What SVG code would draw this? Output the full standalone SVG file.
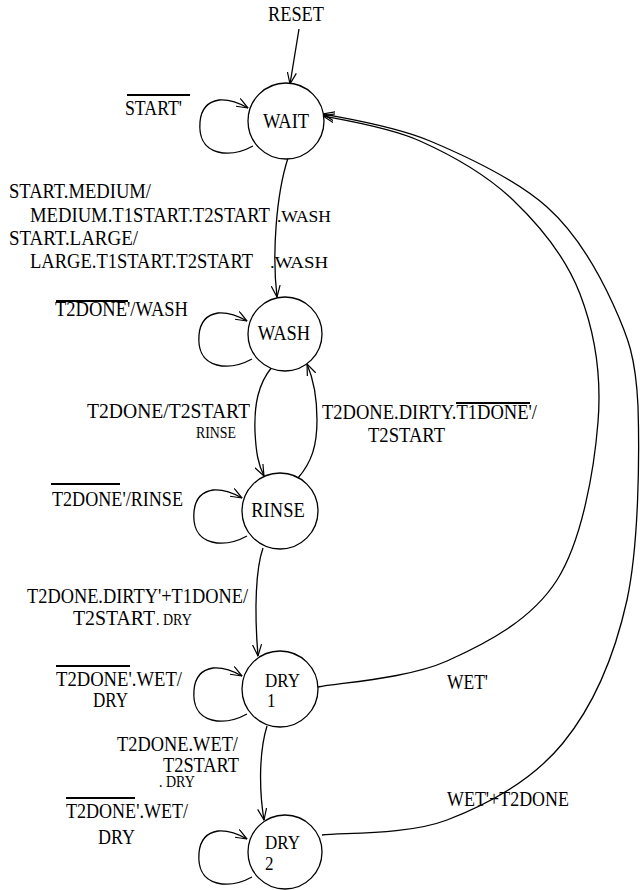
<svg xmlns="http://www.w3.org/2000/svg" width="640" height="890" viewBox="0 0 640 890" font-family="'Times New Roman', 'Liberation Serif', Times, 'DejaVu Serif', serif">
<style>
.bg{fill:#fff}
.st{fill:#fff;stroke:#000;stroke-width:1.3}
.e{fill:none;stroke:#000;stroke-width:1.3}
.ob{stroke:#000;stroke-width:1.8}
text{font-family:'Times New Roman', 'Liberation Serif', Times, 'DejaVu Serif', serif;fill:#000;transform-box:fill-box;transform-origin:0 85%;transform:scaleY(1.12)}
.t{font-size:18.3px}
.s{font-size:15.5px}
.xs{font-size:14px}
.n{font-size:18.5px;text-anchor:middle}
.d{font-size:17px}
</style>
<defs>
<marker id="ar" markerUnits="userSpaceOnUse" viewBox="0 0 12 10" refX="11.5" refY="5" markerWidth="12" markerHeight="10" orient="auto">
<path d="M0,0.5 L11.5,5 L0,9.5" fill="none" stroke="#000" stroke-width="1.2"/>
</marker>
<path id="loop" d="M -33,25 C -44,31 -56,34 -68,31 C -84,27 -87,13 -86,1 C -85,-11 -80,-19 -67,-21 C -55,-22 -45,-17 -38,-13"/>
</defs>
<rect class="bg" x="0" y="0" width="640" height="890"/>

<g id="connectors">
<path class="e" marker-end="url(#ar)" d="M 299,29 L 290,84"/>
<path class="e" marker-end="url(#ar)" d="M 288,158 C 276,195 272,255 277,297"/>
<path class="e" marker-end="url(#ar)" d="M 272,367 C 258,384 254,405 255,432 C 256,452 258,464 264,476"/>
<path class="e" marker-end="url(#ar)" d="M 298,478 C 312,462 317,445 317,420 C 317,395 313,378 307,364"/>
<path class="e" marker-end="url(#ar)" d="M 263,548 C 256,568 254,608 258,656"/>
<path class="e" marker-end="url(#ar)" d="M 267,726 C 259,752 259,790 264,820"/>
<path class="e" marker-end="url(#ar)" d="M 318,687 C 339.5,682.7 407.2,678.8 447,661 C 486.8,643.2 531.8,619.8 557,580 C 582.2,540.2 594.2,469.7 598,422 C 601.8,374.3 594.2,331 580,294 C 565.8,257 539.7,225.5 513,200 C 486.3,174.5 451.7,155.2 420,141 C 388.3,126.8 339.2,119.3 323,116"/>
<path class="e" marker-end="url(#ar)" d="M 322,835 C 342.8,832.5 406.8,835.3 447,820 C 487.2,804.7 533,779.7 563,743 C 593,706.3 614.5,656.2 627,600 C 639,543.8 639.5,455.3 638,406 C 635.7,356.7 628.2,337.2 613,304 C 597.8,270.8 577.5,234.2 547,207 C 516.5,179.8 467.3,156.7 430,141 C 392.7,125.3 340.8,117.7 323,114"/>
<use href="#loop" class="e" marker-end="url(#ar)" transform="translate(286,121)"/>
<use href="#loop" class="e" marker-end="url(#ar)" transform="translate(285,334)"/>
<use href="#loop" class="e" marker-end="url(#ar)" transform="translate(280,511)"/>
<use href="#loop" class="e" marker-end="url(#ar)" transform="translate(280,689)"/>
<use href="#loop" class="e" marker-end="url(#ar)" transform="translate(285,852)"/>
</g>

<g id="labels">
<text class="t" x="268" y="21" textLength="56" lengthAdjust="spacingAndGlyphs">RESET</text>
<text class="t" x="125" y="115" textLength="57" lengthAdjust="spacingAndGlyphs">START'</text>
<line class="ob" x1="127" y1="95" x2="190" y2="95"/>
<text class="t" x="9" y="198" textLength="142" lengthAdjust="spacingAndGlyphs">START.MEDIUM/</text>
<text class="t" x="30" y="222" textLength="240" lengthAdjust="spacingAndGlyphs">MEDIUM.T1START.T2START</text>
<text class="s" x="277" y="222" textLength="54" lengthAdjust="spacingAndGlyphs">.WASH</text>
<text class="t" x="9" y="245" textLength="129" lengthAdjust="spacingAndGlyphs">START.LARGE/</text>
<text class="t" x="30" y="268" textLength="223" lengthAdjust="spacingAndGlyphs">LARGE.T1START.T2START</text>
<text class="s" x="270" y="268" textLength="58" lengthAdjust="spacingAndGlyphs">.WASH</text>
<text class="t" x="55" y="316" textLength="133" lengthAdjust="spacingAndGlyphs">T2DONE'/WASH</text>
<line class="ob" x1="56" y1="301" x2="128" y2="301"/>
<text class="t" x="87" y="418" textLength="163" lengthAdjust="spacingAndGlyphs">T2DONE/T2START</text>
<text class="xs" x="196" y="438" textLength="40" lengthAdjust="spacingAndGlyphs">RINSE</text>
<text class="t" x="322" y="419" textLength="215" lengthAdjust="spacingAndGlyphs">T2DONE.DIRTY.T1DONE'/</text>
<line class="ob" x1="456" y1="403" x2="530" y2="403"/>
<text class="t" x="368" y="442" textLength="77" lengthAdjust="spacingAndGlyphs">T2START</text>
<text class="t" x="52" y="506" textLength="131" lengthAdjust="spacingAndGlyphs">T2DONE'/RINSE</text>
<line class="ob" x1="51" y1="484" x2="120" y2="484"/>
<text class="t" x="27" y="603" textLength="221" lengthAdjust="spacingAndGlyphs">T2DONE.DIRTY'+T1DONE/</text>
<text class="t" x="73" y="625" textLength="82" lengthAdjust="spacingAndGlyphs">T2START</text>
<text class="xs" x="156" y="625">. DRY</text>
<text class="t" x="56" y="686" textLength="126" lengthAdjust="spacingAndGlyphs">T2DONE'.WET/</text>
<line class="ob" x1="56" y1="666" x2="130" y2="666"/>
<text class="t" x="93" y="707" textLength="35" lengthAdjust="spacingAndGlyphs">DRY</text>
<text class="t" x="447" y="689" textLength="41" lengthAdjust="spacingAndGlyphs">WET'</text>
<text class="t" x="117" y="751" textLength="121" lengthAdjust="spacingAndGlyphs">T2DONE.WET/</text>
<text class="t" x="163" y="772" textLength="76" lengthAdjust="spacingAndGlyphs">T2START</text>
<text class="xs" x="159" y="787">. DRY</text>
<text class="t" x="66" y="818" textLength="122" lengthAdjust="spacingAndGlyphs">T2DONE'.WET/</text>
<line class="ob" x1="66" y1="798" x2="135" y2="798"/>
<text class="t" x="98" y="844" textLength="37" lengthAdjust="spacingAndGlyphs">DRY</text>
<text class="t" x="447" y="806" textLength="122" lengthAdjust="spacingAndGlyphs">WET'+T2DONE</text>
</g>

<g id="WAIT">
<circle class="st" cx="286" cy="121" r="38"/>
<text class="n" x="286" y="128">WAIT</text>
</g>
<g id="WASH">
<circle class="st" cx="285" cy="334" r="37"/>
<text class="n" x="284" y="340">WASH</text>
</g>
<g id="RINSE">
<circle class="st" cx="280" cy="511" r="38"/>
<text class="n" x="278" y="517">RINSE</text>
</g>
<g id="DRY1">
<circle class="st" cx="280" cy="689" r="38"/>
<text class="d" x="265" y="687">DRY</text>
<text class="d" x="267" y="707">1</text>
</g>
<g id="DRY2">
<circle class="st" cx="285" cy="852" r="37"/>
<text class="d" x="265" y="849">DRY</text>
<text class="d" x="265" y="870">2</text>
</g>
</svg>
